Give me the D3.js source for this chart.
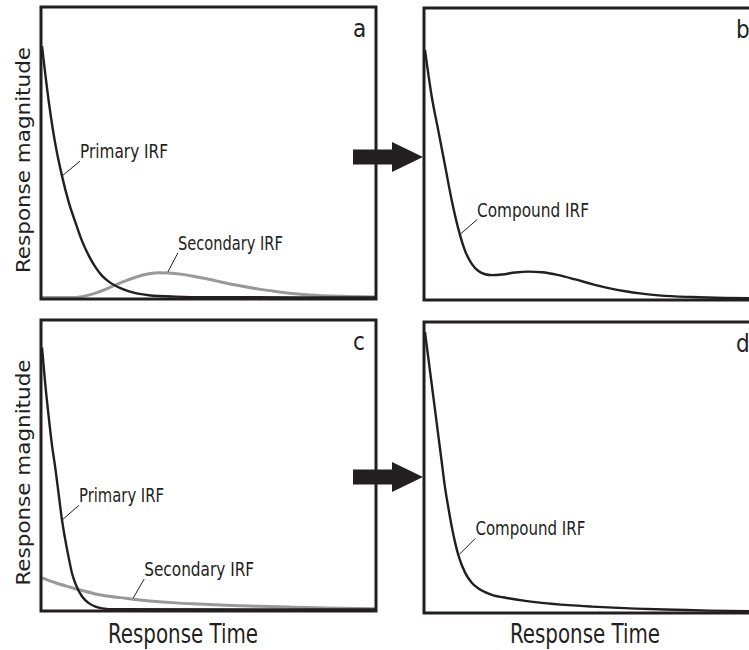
<!DOCTYPE html>
<html>
<head>
<meta charset="utf-8">
<script src="https://cdn.jsdelivr.net/npm/d3@7"></script>
<style>
  body { margin: 0; background: #fff; }
  svg { display: block; }
  text { font-family: "Liberation Sans Narrow", "DejaVu Sans Condensed", "Roboto", sans-serif; fill: #231f20; }
</style>
</head>
<body>
<svg id="chart" width="749" height="650"></svg>
<script>
//---- Data (time and magnitude in arbitrary 0-100 units) ----------------------------------------
var primaryA_t   = [0, 2, 4, 6, 8, 10, 12, 14, 16, 18, 20, 24, 28, 32, 40, 50, 100];
var primaryA_v   = [87, 68, 53, 42, 33, 26, 19.5, 14.5, 10.5, 7.5, 5.5, 3, 1.5, 0.8, 0.3, 0.1, 0];
var secondaryA_t = [0, 8, 12, 16, 20, 24, 28, 32, 35, 38, 42, 46, 50, 55, 60, 65, 70, 75, 80, 90, 100];
var secondaryA_v = [0, 0, 0.3, 1.5, 3.3, 5.3, 7.0, 8.2, 8.6, 8.5, 8.0, 7.2, 6.3, 5.0, 3.9, 2.9, 2.1, 1.4, 0.9, 0.4, 0.2];
var compoundB_t  = [0, 2, 4, 6, 8, 10, 12, 14, 16, 18, 20, 23, 27, 31, 35, 40, 45, 50, 55, 60, 65, 70, 80, 90, 100];
var compoundB_v  = [86, 70, 58, 46, 34, 24, 16.5, 12, 9.5, 8.4, 8.1, 8.3, 9.0, 9.3, 9.1, 8.1, 6.6, 5.0, 3.6, 2.5, 1.7, 1.1, 0.5, 0.2, 0.1];
var primaryC_t   = [0, 1, 2, 3, 4, 5, 6, 7, 8, 9, 10, 12, 14, 16, 18, 22, 100];
var primaryC_v   = [91, 78, 67, 57, 49, 40, 31, 24, 18, 12.5, 9, 4.5, 2.2, 1, 0.4, 0.1, 0];
var secondaryC_t = [0, 4, 8, 12, 16, 20, 25, 30, 35, 40, 47, 55, 65, 75, 85, 100];
var secondaryC_v = [11, 9.3, 7.9, 6.6, 5.4, 4.6, 3.9, 3.2, 2.7, 2.3, 1.9, 1.5, 1.1, 0.8, 0.5, 0.3];
var compoundD_t  = [0, 1, 2, 3, 4, 5, 6, 7, 8, 9, 10, 12, 14, 16, 18, 20, 25, 30, 35, 43, 50, 63, 75, 85, 100];
var compoundD_v  = [97, 88, 79, 70, 61, 52, 43, 36, 29.5, 24, 19.5, 13.5, 10, 8, 6.7, 5.8, 4.6, 3.7, 3.0, 2.2, 1.7, 1.0, 0.6, 0.3, 0.1];

var panelLetters = ["a", "b", "c", "d"];
var yTitle = "Response magnitude";
var xTitle = "Response Time";

var ink = "#231f20";
var grey = "#98999b";

//---- Layout ------------------------------------------------------------------------------------
var svg = d3.select("#chart");

function serie(t, v, name, color, anchor, dx, dy, len) {
  return { pts: t.map(function (d, i) { return { t: d, v: v[i] }; }), name: name, color: color,
           anchor: anchor, dx: dx, dy: dy, len: len };
}

var panels = [
  { letter: panelLetters[0], box: { x: 41, y: 7, w: 335, h: 292 },
    series: [serie(secondaryA_t, secondaryA_v, "Secondary IRF", grey, 37.4, 11, -20, 105),
             serie(primaryA_t, primaryA_v, "Primary IRF", ink, 6, 18, -15, 88)] },
  { letter: panelLetters[1], box: { x: 424, y: 8, w: 335, h: 292 },
    series: [serie(compoundB_t, compoundB_v, "Compound IRF", ink, 10.5, 17, -15, 112)] },
  { letter: panelLetters[2], box: { x: 41, y: 320, w: 335, h: 291 },
    series: [serie(secondaryC_t, secondaryC_v, "Secondary IRF", grey, 27, 12, -20, 110),
             serie(primaryC_t, primaryC_v, "Primary IRF", ink, 6, 17, -15, 85)] },
  { letter: panelLetters[3], box: { x: 424, y: 322, w: 335, h: 291 },
    series: [serie(compoundD_t, compoundD_v, "Compound IRF", ink, 10, 17, -17, 110)] }
];

var clip = svg.append("defs");

panels.forEach(function (p, i) {
  var b = p.box;
  var x = d3.scaleLinear().domain([0, 100]).range([b.x + 1, b.x + b.w]);
  var y = d3.scaleLinear().domain([0, 100]).range([b.y + b.h - 1.5, b.y + 1.5]);
  var g = svg.append("g").attr("class", "panel-" + p.letter);

  clip.append("clipPath").attr("id", "clip" + i)
    .append("rect").attr("x", b.x).attr("y", b.y).attr("width", b.w).attr("height", b.h);

  var line = d3.line()
    .x(function (d) { return x(d.t); })
    .y(function (d) { return y(d.v); })
    .curve(d3.curveMonotoneX);

  g.append("g").attr("clip-path", "url(#clip" + i + ")")
    .selectAll("path")
    .data(p.series)
    .enter()
    .append("path")
    .attr("d", function (s) { return line(s.pts); })
    .attr("fill", "none")
    .attr("stroke", function (s) { return s.color; })
    .attr("stroke-width", function (s) { return s.color === ink ? 2.4 : 3; });

  // leader lines + curve names
  p.series.forEach(function (s) {
    var at = d3.scaleLinear().domain(s.pts.map(function (d) { return d.t; }))
                             .range(s.pts.map(function (d) { return d.v; }));
    var x0 = x(s.anchor), y0 = y(at(s.anchor));
    g.append("line")
      .attr("x1", x0 + 1).attr("y1", y0 - 1)
      .attr("x2", x0 + s.dx).attr("y2", y0 + s.dy)
      .attr("stroke", ink).attr("stroke-width", 1);
    g.append("text")
      .attr("x", x0 + s.dx).attr("y", y0 + s.dy - 3)
      .attr("font-size", 19)
      .attr("textLength", s.len).attr("lengthAdjust", "spacingAndGlyphs")
      .text(s.name);
  });

  // frame
  g.append("rect")
    .attr("x", b.x).attr("y", b.y).attr("width", b.w).attr("height", b.h)
    .attr("fill", "none").attr("stroke", ink).attr("stroke-width", 3);

  g.append("text")
    .attr("x", b.x + 312).attr("y", b.y + 30)
    .attr("font-size", 24)
    .text(p.letter);
});

// y titles (left column)
[panels[0], panels[2]].forEach(function (p) {
  var cy = p.box.y + p.box.h / 2 + 7;
  svg.append("text")
    .attr("transform", "translate(30," + cy + ") rotate(-90)")
    .attr("text-anchor", "middle")
    .attr("font-size", 20)
    .attr("textLength", 226).attr("lengthAdjust", "spacingAndGlyphs")
    .text(yTitle);
});

// x titles (bottom row)
var xTitleCenter = [183, 585];
[panels[2], panels[3]].forEach(function (p, i) {
  svg.append("text")
    .attr("x", xTitleCenter[i]).attr("y", 643)
    .attr("text-anchor", "middle")
    .attr("font-size", 26)
    .attr("textLength", 150).attr("lengthAdjust", "spacingAndGlyphs")
    .text(xTitle);
});

// arrows from left panels to right panels
var arrowTipY = [157, 477];
[[panels[0], panels[1]], [panels[2], panels[3]]].forEach(function (pr, i) {
  var from = pr[0].box, to = pr[1].box;
  var x0 = from.x + from.w - 23, xh = to.x - 32, xt = to.x - 1, ty = arrowTipY[i];
  var pts = [[x0, ty - 7.5], [xh, ty - 7.5], [xh, ty - 15], [xt, ty], [xh, ty + 15], [xh, ty + 7.5], [x0, ty + 7.5]];
  svg.append("path")
    .attr("d", d3.line()(pts) + "Z")
    .attr("fill", ink);
});
</script>
</body>
</html>
